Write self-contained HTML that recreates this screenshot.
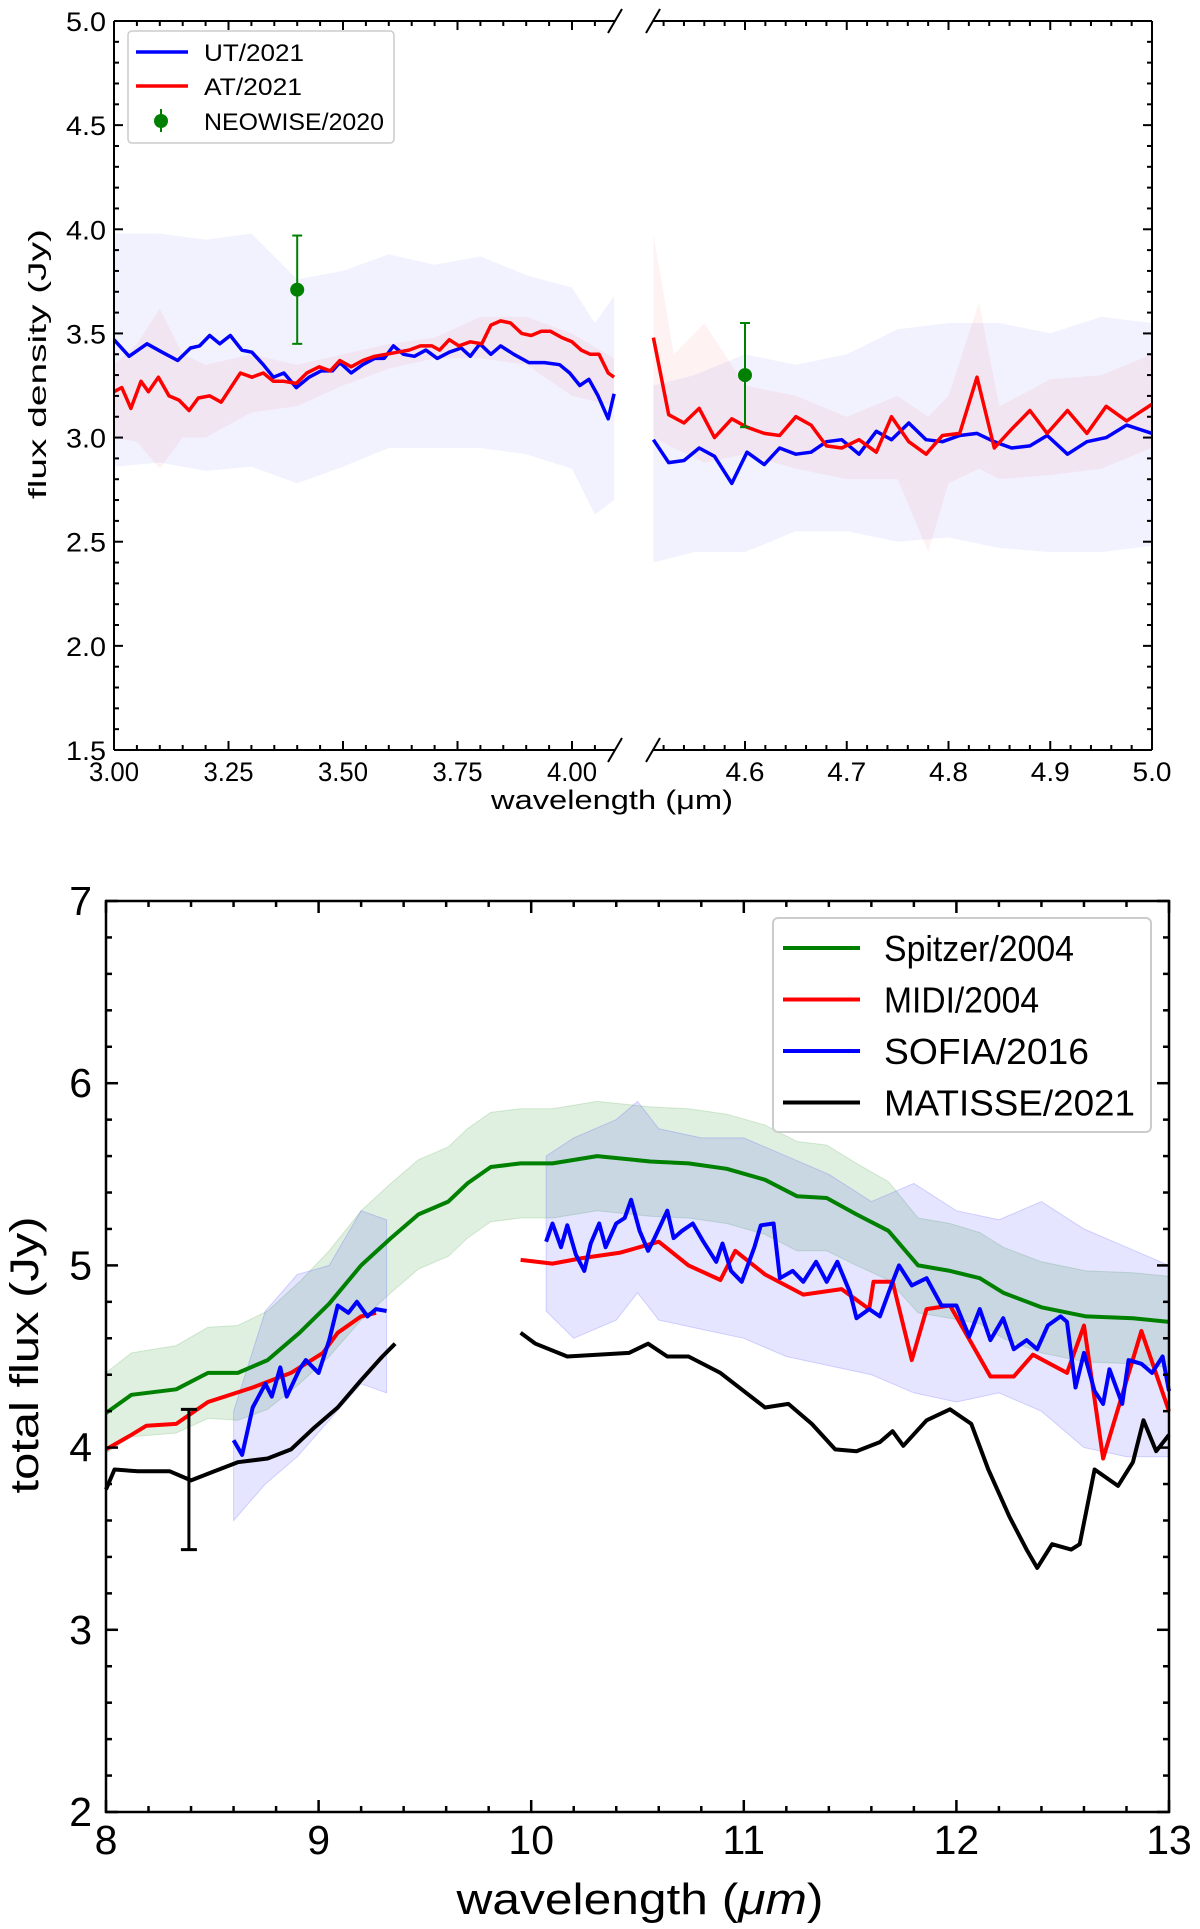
<!DOCTYPE html>
<html><head><meta charset="utf-8"><style>
html,body{margin:0;padding:0;background:#fff;}
svg{display:block;font-family:"Liberation Sans","DejaVu Sans",sans-serif;}
</style></head><body>
<svg id="fig" width="1200" height="1929" viewBox="0 0 1200 1929" xmlns="http://www.w3.org/2000/svg"></svg>
<script>
// ===== Top chart data =====
const utLeftX=[3.000,3.033,3.072,3.105,3.139,3.167,3.187,3.209,3.231,3.254,3.279,3.301,3.326,3.348,3.371,3.398,3.426,3.452,3.477,3.493,3.518,3.543,3.569,3.590,3.610,3.632,3.656,3.681,3.706,3.732,3.758,3.778,3.799,3.823,3.844,3.873,3.906,3.940,3.973,3.995,4.017,4.037,4.057,4.079,4.092];
const utLeftY=[3.47,3.39,3.45,3.41,3.37,3.43,3.44,3.49,3.45,3.49,3.42,3.41,3.35,3.29,3.31,3.24,3.29,3.32,3.32,3.36,3.31,3.35,3.38,3.38,3.44,3.40,3.39,3.42,3.38,3.41,3.43,3.39,3.45,3.40,3.44,3.40,3.36,3.36,3.35,3.31,3.25,3.28,3.20,3.09,3.21];
const atLeftX=[3.000,3.017,3.037,3.059,3.075,3.097,3.120,3.142,3.164,3.184,3.209,3.234,3.276,3.301,3.326,3.348,3.371,3.398,3.421,3.448,3.472,3.493,3.518,3.543,3.569,3.594,3.619,3.644,3.669,3.694,3.711,3.732,3.753,3.778,3.803,3.823,3.844,3.866,3.890,3.911,3.933,3.953,3.978,4.000,4.020,4.040,4.059,4.079,4.092];
const atLeftY=[3.22,3.24,3.14,3.27,3.22,3.29,3.20,3.18,3.13,3.19,3.20,3.17,3.31,3.29,3.31,3.27,3.27,3.26,3.31,3.34,3.32,3.37,3.34,3.37,3.39,3.40,3.41,3.42,3.44,3.44,3.42,3.47,3.44,3.46,3.45,3.54,3.56,3.55,3.50,3.49,3.51,3.51,3.48,3.46,3.42,3.40,3.40,3.31,3.29];
const rightX=[4.510,4.525,4.540,4.555,4.570,4.587,4.602,4.619,4.634,4.650,4.665,4.680,4.695,4.712,4.729,4.744,4.761,4.778,4.794,4.811,4.828,4.845,4.862,4.880,4.897,4.917,4.936,4.955,4.975,5.000];
const utRightY=[2.99,2.88,2.89,2.95,2.91,2.78,2.93,2.87,2.95,2.92,2.93,2.98,2.99,2.92,3.03,2.99,3.07,2.99,2.98,3.01,3.02,2.98,2.95,2.96,3.01,2.92,2.98,3.00,3.06,3.02];
const atRightY=[3.48,3.11,3.07,3.14,3.00,3.09,3.05,3.02,3.01,3.10,3.06,2.96,2.95,2.99,2.93,3.10,2.98,2.92,3.01,3.02,3.29,2.95,3.04,3.13,3.02,3.13,3.02,3.15,3.08,3.16];
const utBandLX=[3.0,3.1,3.2,3.3,3.4,3.5,3.6,3.7,3.8,3.9,4.0,4.05,4.092];
const utBandLUp=[3.98,3.98,3.95,3.98,3.76,3.80,3.88,3.83,3.87,3.78,3.72,3.55,3.68];
const utBandLLo=[2.86,2.88,2.84,2.86,2.78,2.86,2.95,2.95,2.95,2.92,2.85,2.63,2.70];
const atBandLX=[3.0,3.05,3.1,3.15,3.2,3.3,3.4,3.5,3.6,3.7,3.8,3.9,4.0,4.092];
const atBandLUp=[3.35,3.45,3.62,3.40,3.35,3.40,3.35,3.40,3.45,3.48,3.58,3.58,3.50,3.38];
const atBandLLo=[3.00,2.98,2.85,3.00,3.00,3.12,3.15,3.25,3.33,3.38,3.38,3.35,3.20,3.15];
const utBandRX=[4.51,4.55,4.6,4.65,4.7,4.75,4.8,4.85,4.9,4.95,5.0];
const utBandRUp=[3.25,3.30,3.40,3.35,3.40,3.52,3.55,3.55,3.50,3.58,3.55];
const utBandRLo=[2.40,2.45,2.45,2.55,2.55,2.50,2.52,2.47,2.45,2.45,2.48];
const atBandRX=[4.51,4.53,4.56,4.6,4.65,4.7,4.75,4.78,4.8,4.83,4.85,4.9,4.95,5.0];
const atBandRUp=[3.98,3.40,3.55,3.25,3.20,3.10,3.20,3.10,3.20,3.65,3.15,3.28,3.30,3.40];
const atBandRLo=[3.00,2.95,2.88,2.92,2.85,2.80,2.80,2.45,2.78,2.85,2.80,2.82,2.85,2.95];
const neoX=[3.4,4.6];
const neoY=[3.71,3.30];
const neoErr=[0.26,0.25];
const topYTicks=["1.5","2.0","2.5","3.0","3.5","4.0","4.5","5.0"];
const topLeftXTicks=["3.00","3.25","3.50","3.75","4.00"];
const topRightXTicks=["4.6","4.7","4.8","4.9","5.0"];

// ===== Bottom chart data =====
const spitzerX=[8.00,8.12,8.33,8.48,8.62,8.76,8.91,9.05,9.20,9.34,9.47,9.61,9.70,9.81,9.95,10.10,10.31,10.56,10.74,10.92,11.10,11.25,11.39,11.53,11.68,11.82,11.97,12.11,12.22,12.40,12.61,12.83,13.00];
const spitzerY=[4.19,4.29,4.32,4.41,4.41,4.48,4.63,4.79,5.00,5.15,5.28,5.35,5.45,5.54,5.56,5.56,5.60,5.57,5.56,5.53,5.47,5.38,5.37,5.28,5.19,5.00,4.97,4.93,4.85,4.77,4.72,4.71,4.69];
const spitzerErr=[0.22,0.23,0.24,0.25,0.26,0.27,0.28,0.29,0.30,0.30,0.30,0.30,0.30,0.30,0.30,0.30,0.30,0.30,0.30,0.30,0.30,0.30,0.29,0.28,0.27,0.26,0.26,0.25,0.25,0.25,0.25,0.25,0.25];
const midi1X=[8.00,8.12,8.19,8.33,8.48,8.69,8.87,9.02,9.09,9.20,9.27];
const midi1Y=[3.99,4.07,4.12,4.13,4.25,4.33,4.41,4.52,4.63,4.72,4.74];
const midi2X=[9.95,10.10,10.24,10.42,10.60,10.74,10.89,10.96,11.10,11.28,11.46,11.59,11.61,11.70,11.79,11.86,11.97,12.16,12.27,12.36,12.52,12.60,12.69,12.87,13.00];
const midi2Y=[5.03,5.01,5.04,5.07,5.13,5.00,4.92,5.08,4.95,4.84,4.87,4.76,4.91,4.91,4.48,4.76,4.78,4.39,4.39,4.51,4.41,4.67,3.94,4.64,4.20];
const sofia1X=[8.60,8.64,8.69,8.75,8.78,8.82,8.85,8.91,8.94,9.00,9.05,9.09,9.14,9.18,9.23,9.27,9.32];
const sofia1Y=[4.04,3.96,4.22,4.35,4.28,4.44,4.28,4.43,4.48,4.41,4.59,4.78,4.74,4.80,4.72,4.76,4.75];
const sofia2X=[10.07,10.10,10.14,10.17,10.21,10.25,10.28,10.32,10.35,10.40,10.44,10.47,10.51,10.55,10.58,10.64,10.67,10.71,10.76,10.81,10.87,10.90,10.94,10.99,11.05,11.08,11.14,11.17,11.23,11.28,11.34,11.39,11.44,11.50,11.53,11.59,11.64,11.70,11.73,11.79,11.86,11.93,12.00,12.06,12.11,12.16,12.22,12.27,12.33,12.38,12.43,12.49,12.52,12.56,12.60,12.65,12.69,12.72,12.78,12.81,12.87,12.92,12.97,13.00];
const sofia2Y=[5.13,5.23,5.10,5.22,5.06,4.97,5.12,5.23,5.10,5.23,5.26,5.36,5.19,5.08,5.15,5.30,5.15,5.19,5.23,5.13,5.02,5.12,4.97,4.91,5.10,5.22,5.23,4.93,4.97,4.91,5.02,4.91,5.02,4.85,4.71,4.76,4.72,4.91,5.00,4.89,4.93,4.78,4.78,4.61,4.76,4.59,4.71,4.54,4.59,4.54,4.67,4.72,4.69,4.33,4.52,4.31,4.24,4.43,4.24,4.48,4.46,4.41,4.50,4.31];
const sofiaBand1X=[8.6,8.75,8.9,9.05,9.2,9.32];
const sofiaBand1Up=[4.20,4.75,4.95,5.00,5.30,5.25];
const sofiaBand1Lo=[3.60,3.80,3.95,4.15,4.35,4.30];
const sofiaBand2X=[10.07,10.2,10.4,10.5,10.6,10.8,11.0,11.2,11.4,11.6,11.8,12.0,12.2,12.4,12.6,12.8,13.0];
const sofiaBand2Up=[5.60,5.70,5.80,5.90,5.75,5.70,5.70,5.60,5.50,5.35,5.45,5.30,5.25,5.35,5.20,5.10,5.00];
const sofiaBand2Lo=[4.75,4.60,4.70,4.85,4.70,4.65,4.60,4.50,4.45,4.40,4.30,4.25,4.30,4.20,4.00,3.95,3.95];
const mat1X=[8.00,8.04,8.15,8.30,8.40,8.51,8.62,8.76,8.87,8.98,9.09,9.20,9.30,9.36];
const mat1Y=[3.77,3.88,3.87,3.87,3.82,3.87,3.92,3.94,3.99,4.11,4.22,4.37,4.50,4.57];
const mat2X=[9.95,10.02,10.17,10.31,10.46,10.55,10.64,10.74,10.89,11.00,11.10,11.21,11.32,11.43,11.53,11.64,11.70,11.75,11.86,11.97,12.07,12.15,12.25,12.33,12.38,12.45,12.54,12.58,12.65,12.76,12.83,12.88,12.94,13.00];
const mat2Y=[4.63,4.57,4.50,4.51,4.52,4.57,4.50,4.50,4.41,4.31,4.22,4.24,4.13,3.99,3.98,4.03,4.09,4.01,4.15,4.21,4.13,3.88,3.62,3.44,3.34,3.47,3.44,3.47,3.88,3.79,3.92,4.15,3.98,4.07];
const matErrX=[8.39];
const matErrLo=[3.44];
const matErrHi=[4.21];
const botXTicks=["8","9","10","11","12","13"];
const botYTicks=["2","3","4","5","6","7"];

// ===== drawing =====
const NS="http://www.w3.org/2000/svg";
const svg=document.getElementById('fig');
function mk(tag,attrs,parent){const e=document.createElementNS(NS,tag);for(const k in attrs)e.setAttribute(k,attrs[k]);(parent||svg).appendChild(e);return e;}
function txt(s,attrs,parent){const e=mk('text',attrs,parent);e.textContent=s;return e;}

const TY=v=>21+(5.0-v)*(729/3.5);
const TXL=v=>114+(v-3.0)*458;
const TXR=v=>745+(v-4.6)*1017.5;
function pathOf(xs,ys,fx,fy){return xs.map((x,i)=>(i?'L':'M')+fx(x).toFixed(1)+','+fy(ys[i]).toFixed(1)).join(' ');}
function bandOf(xs,up,lo,fx,fy){let d=xs.map((x,i)=>(i?'L':'M')+fx(x).toFixed(1)+','+fy(up[i]).toFixed(1)).join(' ');for(let i=xs.length-1;i>=0;i--)d+='L'+fx(xs[i]).toFixed(1)+','+fy(lo[i]).toFixed(1);return d+'Z';}

const gTop=mk('g',{});


let b;
b=mk('path',{d:bandOf(utBandLX,utBandLUp,utBandLLo,TXL,TY),fill:'#0000ff','fill-opacity':0.05},gTop);

b=mk('path',{d:bandOf(atBandLX,atBandLUp,atBandLLo,TXL,TY),fill:'#ff0000','fill-opacity':0.05},gTop);

b=mk('path',{d:bandOf(utBandRX,utBandRUp,utBandRLo,TXR,TY),fill:'#0000ff','fill-opacity':0.05},gTop);

b=mk('path',{d:bandOf(atBandRX,atBandRUp,atBandRLo,TXR,TY),fill:'#ff0000','fill-opacity':0.05},gTop);

let l;
l=mk('path',{d:pathOf(utLeftX,utLeftY,TXL,TY),fill:'none',stroke:'#0000ff','stroke-width':3.5,'stroke-linejoin':'round'},gTop);

l=mk('path',{d:pathOf(atLeftX,atLeftY,TXL,TY),fill:'none',stroke:'#ff0000','stroke-width':3.5,'stroke-linejoin':'round'},gTop);

l=mk('path',{d:pathOf(rightX,utRightY,TXR,TY),fill:'none',stroke:'#0000ff','stroke-width':3.5,'stroke-linejoin':'round'},gTop);

l=mk('path',{d:pathOf(rightX,atRightY,TXR,TY),fill:'none',stroke:'#ff0000','stroke-width':3.5,'stroke-linejoin':'round'},gTop);

neoX.forEach((x,i)=>{
  const px=x<4.3?TXL(x):TXR(x);
  const g=mk('g',{},gTop);
  
  
  mk('line',{x1:px,x2:px,y1:TY(neoY[i]+neoErr[i]),y2:TY(neoY[i]-neoErr[i]),stroke:'#008000','stroke-width':2},g);
  mk('line',{x1:px-5,x2:px+5,y1:TY(neoY[i]+neoErr[i]),y2:TY(neoY[i]+neoErr[i]),stroke:'#008000','stroke-width':2},g);
  mk('line',{x1:px-5,x2:px+5,y1:TY(neoY[i]-neoErr[i]),y2:TY(neoY[i]-neoErr[i]),stroke:'#008000','stroke-width':2},g);
  mk('circle',{cx:px,cy:TY(neoY[i]),r:7,fill:'#008000'},g);
});
const ax=mk('g',{stroke:'#000','stroke-width':2,fill:'none'},gTop);

const yT=21,yB=750,xL=114,xBL=615,xBR=653,xR=1152;
mk('line',{x1:xL,y1:yT,x2:xBL,y2:yT},ax);mk('line',{x1:xL,y1:yB,x2:xBL,y2:yB},ax);
mk('line',{x1:xBR,y1:yT,x2:xR,y2:yT},ax);mk('line',{x1:xBR,y1:yB,x2:xR,y2:yB},ax);
mk('line',{x1:xL,y1:yT,x2:xL,y2:yB},ax);mk('line',{x1:xR,y1:yT,x2:xR,y2:yB},ax);
[[xBL,yT],[xBL,yB],[xBR,yT],[xBR,yB]].forEach(p=>mk('line',{x1:p[0]-7,y1:p[1]+12,x2:p[0]+7,y2:p[1]-12},ax));
for(let v=1.5;v<=5.001;v+=0.1){const y=TY(v);const maj=Math.abs(v*2-Math.round(v*2))<0.01;const L=maj?9:5;
  mk('line',{x1:xL,x2:xL+L,y1:y,y2:y},ax);mk('line',{x1:xR,x2:xR-L,y1:y,y2:y},ax);}
topYTicks.forEach(s=>{const t=txt(s,{x:xL-8,y:TY(+s)+10,'font-size':27,'text-anchor':'end',fill:'#000',textLength:40,lengthAdjust:'spacingAndGlyphs'},gTop);});
for(let v=3.0;v<=4.09;v+=0.05){const x=TXL(v);const maj=Math.abs(v*4-Math.round(v*4))<0.01;const L=maj?9:5;
  mk('line',{x1:x,x2:x,y1:yB,y2:yB-L},ax);mk('line',{x1:x,x2:x,y1:yT,y2:yT+L},ax);}
for(let v=4.52;v<=5.001;v+=0.02){const x=TXR(v);const maj=Math.abs(v*10-Math.round(v*10))<0.01;const L=maj?9:5;
  mk('line',{x1:x,x2:x,y1:yB,y2:yB-L},ax);mk('line',{x1:x,x2:x,y1:yT,y2:yT+L},ax);}
topLeftXTicks.forEach(s=>{const t=txt(s,{x:TXL(+s),y:781,'font-size':27,'text-anchor':'middle',fill:'#000',textLength:50,lengthAdjust:'spacingAndGlyphs'},gTop);});
topRightXTicks.forEach(s=>{const t=txt(s,{x:TXR(+s),y:781,'font-size':27,'text-anchor':'middle',fill:'#000',textLength:39,lengthAdjust:'spacingAndGlyphs'},gTop);});
let t=txt('wavelength (μm)',{x:612,y:809,'font-size':27,'text-anchor':'middle',fill:'#000',textLength:242,lengthAdjust:'spacingAndGlyphs'},gTop);

t=txt('flux density (Jy)',{x:0,y:0,'font-size':25,'text-anchor':'middle',fill:'#000',textLength:270,lengthAdjust:'spacingAndGlyphs',transform:'translate(46,364) rotate(-90)'},gTop);

const lg=mk('g',{},gTop);

mk('rect',{x:128,y:31,width:266,height:112,rx:4,fill:'#fff','fill-opacity':0.8,stroke:'#ccc','stroke-width':1.5},lg);
mk('line',{x1:136,x2:188,y1:52,y2:52,stroke:'#0000ff','stroke-width':3.5},lg);
txt('UT/2021',{x:204,y:61,'font-size':24,fill:'#000',textLength:100,lengthAdjust:'spacingAndGlyphs'},lg);
mk('line',{x1:136,x2:188,y1:86,y2:86,stroke:'#ff0000','stroke-width':3.5},lg);
txt('AT/2021',{x:204,y:95,'font-size':24,fill:'#000',textLength:98,lengthAdjust:'spacingAndGlyphs'},lg);
mk('line',{x1:161,x2:161,y1:109,y2:132,stroke:'#008000','stroke-width':2},lg);
mk('circle',{cx:161,cy:121,r:7,fill:'#008000'},lg);
txt('NEOWISE/2020',{x:204,y:130,'font-size':24,fill:'#000',textLength:180,lengthAdjust:'spacingAndGlyphs'},lg);

// ===== bottom chart =====
const BX=v=>106+(v-8)*212.6;
const BY=v=>901+(7-v)*182.2;
const gB=mk('g',{});


const spUp=spitzerY.map((v,i)=>v+spitzerErr[i]);
const spLo=spitzerY.map((v,i)=>v-spitzerErr[i]);
b=mk('path',{d:bandOf(spitzerX,spUp,spLo,BX,BY),fill:'#008000','fill-opacity':0.12,stroke:'#008000','stroke-opacity':0.15},gB);

b=mk('path',{d:bandOf(sofiaBand1X,sofiaBand1Up,sofiaBand1Lo,BX,BY),fill:'#0000ff','fill-opacity':0.1,stroke:'#0000ff','stroke-opacity':0.15},gB);

b=mk('path',{d:bandOf(sofiaBand2X,sofiaBand2Up,sofiaBand2Lo,BX,BY),fill:'#0000ff','fill-opacity':0.1,stroke:'#0000ff','stroke-opacity':0.15},gB);

function bl(xs,ys,col,name){const p=mk('path',{d:pathOf(xs,ys,BX,BY),fill:'none',stroke:col,'stroke-width':4,'stroke-linejoin':'round'},gB);}
bl(spitzerX,spitzerY,'#008000','spitzer-line');
bl(midi1X,midi1Y,'#ff0000','midi-line-1');
bl(midi2X,midi2Y,'#ff0000','midi-line-2');
bl(sofia1X,sofia1Y,'#0000ff','sofia-line-1');
bl(sofia2X,sofia2Y,'#0000ff','sofia-line-2');
bl(mat1X,mat1Y,'#000000','matisse-line-1');
bl(mat2X,mat2Y,'#000000','matisse-line-2');
matErrX.forEach((x,i)=>{const g=mk('g',{stroke:'#000','stroke-width':3},gB);
  
  const px=BX(x);mk('line',{x1:px,x2:px,y1:BY(matErrHi[i]),y2:BY(matErrLo[i])},g);
  mk('line',{x1:px-8,x2:px+8,y1:BY(matErrHi[i]),y2:BY(matErrHi[i])},g);
  mk('line',{x1:px-8,x2:px+8,y1:BY(matErrLo[i]),y2:BY(matErrLo[i])},g);});
const bx=mk('g',{stroke:'#000','stroke-width':2.5,fill:'none'},gB);

const bL=BX(8),bR=BX(13),bT=BY(7),bBt=BY(2);
mk('rect',{x:bL,y:bT,width:bR-bL,height:bBt-bT},bx);
for(let v=2;v<=7.001;v+=0.2){const y=BY(v);const maj=Math.abs(v-Math.round(v))<0.01;const L=maj?12:6;
  mk('line',{x1:bL,x2:bL+L,y1:y,y2:y},bx);mk('line',{x1:bR,x2:bR-L,y1:y,y2:y},bx);}
for(let v=8;v<=13.001;v+=0.2){const x=BX(v);const maj=Math.abs(v-Math.round(v))<0.01;const L=maj?12:6;
  mk('line',{x1:x,x2:x,y1:bBt,y2:bBt-L},bx);mk('line',{x1:x,x2:x,y1:bT,y2:bT+L},bx);}
botYTicks.forEach(s=>{const e=txt(s,{x:bL-14,y:BY(+s)+14,'font-size':41,'text-anchor':'end',fill:'#000'},gB);});
botXTicks.forEach(s=>{const e=txt(s,{x:BX(+s),y:1854,'font-size':41,'text-anchor':'middle',fill:'#000'},gB);});
t=txt('',{x:640,y:1914,'font-size':44,'text-anchor':'middle',fill:'#000',textLength:367,lengthAdjust:'spacingAndGlyphs'},gB);
t.innerHTML='wavelength (<tspan font-style="italic">μm</tspan>)';

t=txt('total flux (Jy)',{x:0,y:0,'font-size':40,'text-anchor':'middle',fill:'#000',textLength:277,lengthAdjust:'spacingAndGlyphs',transform:'translate(38,1355) rotate(-90)'},gB);

const lb=mk('g',{},gB);

mk('rect',{x:773,y:918,width:378,height:214,rx:5,fill:'#fff','fill-opacity':0.9,stroke:'#ccc','stroke-width':2},lb);
const legN=['Spitzer/2004','MIDI/2004','SOFIA/2016','MATISSE/2021'];
const legC=['#008000','#ff0000','#0000ff','#000000'];
const legW=[190,155,205,251];
legN.forEach((n,i)=>{const y=948+i*51.5;
  mk('line',{x1:783,x2:860,y1:y,y2:y,stroke:legC[i],'stroke-width':4},lb);
  txt(n,{x:884,y:y+13,'font-size':36,fill:'#000',textLength:legW[i],lengthAdjust:'spacingAndGlyphs'},lb);});
</script>
</body></html>
